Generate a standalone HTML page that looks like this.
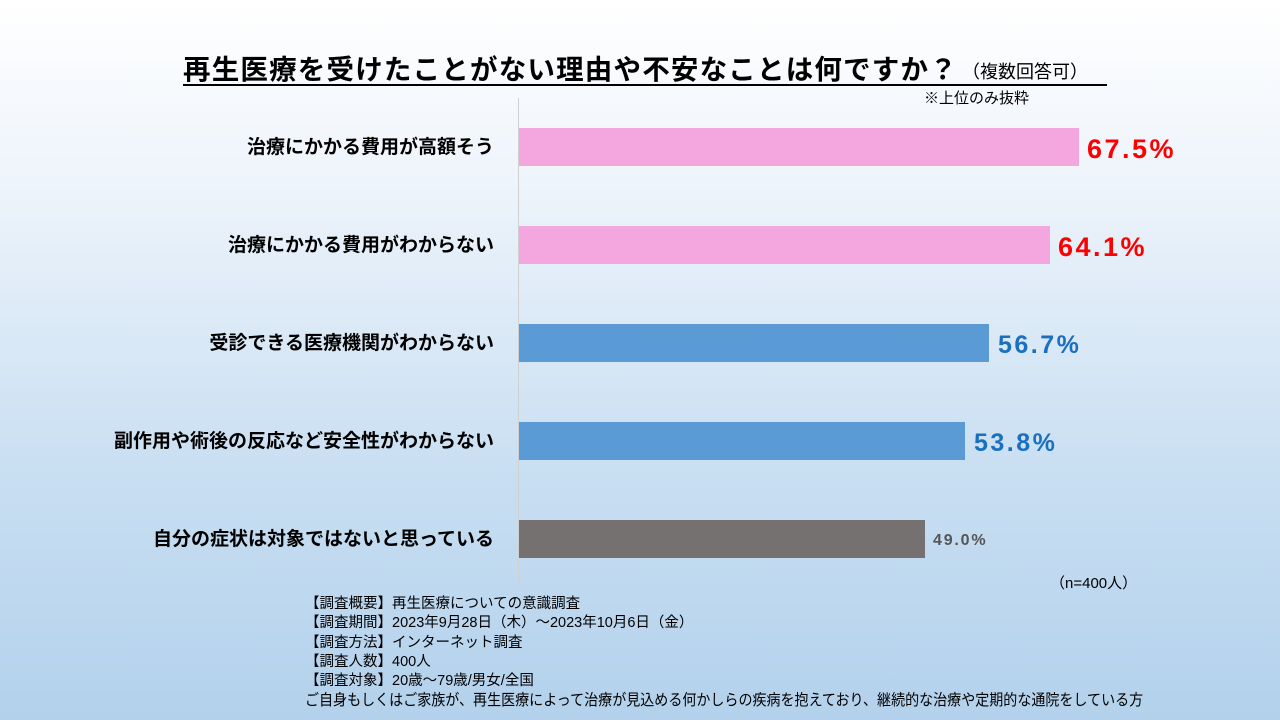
<!DOCTYPE html>
<html><head><meta charset="utf-8"><style>
body{margin:0;width:1280px;height:720px;overflow:hidden;font-family:"Liberation Sans","Noto Sans CJK JP",sans-serif;}
#c{position:relative;width:1280px;height:720px;background:linear-gradient(#ffffff 0%,#eef4fb 25%,#c9dff2 65%,#b3d1ec 100%);}
.a{position:absolute;white-space:nowrap;}
.lab{position:absolute;right:786px;font-weight:bold;font-size:19px;color:#000;line-height:22px;white-space:nowrap;}
.bar{position:absolute;left:519px;height:38px;}
.v{position:absolute;font-weight:bold;line-height:30px;white-space:nowrap;}
.f{position:absolute;left:305px;font-size:14.5px;line-height:18px;color:#000;white-space:nowrap;}
</style></head><body><div id="c">
<div class="a" style="left:183px;top:54px;font-size:27.5px;font-weight:bold;line-height:32px;letter-spacing:1.2px;">再生医療を受けたことがない理由や不安なことは何ですか？</div>
<div class="a" style="left:962px;top:60px;font-size:18px;line-height:24px;">（複数回答可）</div>
<div class="a" style="left:183px;top:84px;width:924px;height:2px;background:#000;"></div>
<div class="a" style="left:924px;top:89px;font-size:15px;line-height:20px;">※上位のみ抜粋</div>
<div class="a" style="left:518px;top:98px;width:1px;height:487px;background:#d0d0d0;"></div>

<div class="lab" style="top:137px;">治療にかかる費用が高額そう</div>
<div class="bar" style="top:128px;width:560px;background:#f4a6de;"></div>
<div class="v" style="left:1087px;top:134px;font-size:27px;letter-spacing:2.5px;color:#ff0000;">67.5%</div>

<div class="lab" style="top:235px;">治療にかかる費用がわからない</div>
<div class="bar" style="top:226px;width:531px;background:#f4a6de;"></div>
<div class="v" style="left:1058px;top:232px;font-size:27px;letter-spacing:2.5px;color:#ff0000;">64.1%</div>

<div class="lab" style="top:333px;">受診できる医療機関がわからない</div>
<div class="bar" style="top:324px;width:470px;background:#5b9bd5;"></div>
<div class="v" style="left:998px;top:330px;font-size:25px;letter-spacing:2.5px;color:#1a6fbf;">56.7%</div>

<div class="lab" style="top:431px;">副作用や術後の反応など安全性がわからない</div>
<div class="bar" style="top:422px;width:446px;background:#5b9bd5;"></div>
<div class="v" style="left:974px;top:428px;font-size:25px;letter-spacing:2.5px;color:#1a6fbf;">53.8%</div>

<div class="lab" style="top:529px;">自分の症状は対象ではないと思っている</div>
<div class="bar" style="top:520px;width:406px;background:#767171;"></div>
<div class="v" style="left:933px;top:526px;font-size:16px;letter-spacing:1.8px;color:#555;">49.0%</div>

<div class="a" style="left:1050px;top:574px;font-size:15px;line-height:20px;">（n=400人）</div>
<div class="f" style="top:595px;">【調査概要】再生医療についての意識調査</div>
<div class="f" style="top:614px;">【調査期間】2023年9月28日（木）～2023年10月6日（金）</div>
<div class="f" style="top:634px;">【調査方法】インターネット調査</div>
<div class="f" style="top:653px;">【調査人数】400人</div>
<div class="f" style="top:672px;">【調査対象】20歳～79歳/男女/全国</div>
<div class="f" style="top:692px;font-size:15.5px;transform:scaleX(0.905);transform-origin:0 0;">ご自身もしくはご家族が、再生医療によって治療が見込める何かしらの疾病を抱えており、継続的な治療や定期的な通院をしている方</div>
</div></body></html>
